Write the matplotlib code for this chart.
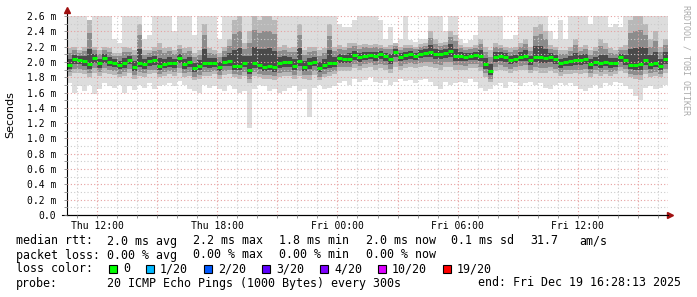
import numpy as np
import pandas as pd
import matplotlib
matplotlib.use("Agg")
import matplotlib.pyplot as plt
import matplotlib.dates as mdates
from matplotlib.ticker import MultipleLocator, FuncFormatter
from matplotlib.patches import Rectangle

# 15 minute samples, Thu 10:30 -> Fri 16:30 (values in ms)
times = pd.date_range("2025-12-18 10:30", periods=120, freq="15min")

median = [
    1.96, 2.04, 2.03, 2.01, 1.97, 2.05, 1.98, 2.05, 2.00, 1.99,
    1.96, 1.98, 2.03, 1.93, 1.99, 1.97, 2.01, 2.02, 1.95, 1.97,
    1.99, 1.98, 2.05, 1.97, 2.00, 1.92, 1.95, 1.99, 1.98, 1.99,
    1.94, 2.00, 2.01, 1.95, 1.95, 1.99, 1.90, 1.98, 1.96, 1.94,
    1.95, 1.93, 1.99, 2.00, 2.00, 1.95, 2.01, 1.94, 1.98, 2.00,
    1.92, 1.96, 1.98, 1.99, 2.05, 2.04, 2.04, 2.09, 2.06, 2.08,
    2.09, 2.08, 2.10, 2.08, 2.04, 2.13, 2.07, 2.09, 2.10, 2.08,
    2.11, 2.12, 2.13, 2.10, 2.11, 2.12, 2.14, 2.08, 2.08, 2.07,
    2.08, 2.09, 2.08, 1.97, 1.88, 2.06, 2.08, 2.07, 2.03, 2.04,
    2.07, 2.08, 2.02, 2.07, 2.06, 2.05, 2.06, 2.04, 1.98, 2.00,
    2.01, 2.02, 2.03, 2.04, 1.97, 2.00, 1.98, 2.00, 1.98, 1.99,
    2.06, 2.02, 1.96, 1.96, 1.97, 2.02, 1.97, 1.99, 1.95, 2.04,
]

ping_max = [
    2.65, 2.65, 2.60, 2.65, 2.45, 2.65, 2.65, 2.60, 2.65, 2.30,
    2.25, 2.65, 2.65, 2.60, 2.65, 2.30, 2.35, 2.65, 2.65, 2.60,
    2.65, 2.40, 2.65, 2.65, 2.65, 2.35, 2.65, 2.65, 2.60, 2.65,
    2.30, 2.65, 2.65, 2.65, 2.65, 2.65, 2.65, 2.65, 2.65, 2.65,
    2.65, 2.65, 2.65, 2.65, 2.65, 2.65, 2.65, 2.65, 2.65, 2.65,
    2.65, 2.65, 2.65, 2.65, 2.50, 2.45, 2.45, 2.55, 2.65, 2.65,
    2.65, 2.65, 2.55, 2.30, 2.45, 2.25, 2.30, 2.60, 2.28, 2.26,
    2.30, 2.30, 2.65, 2.65, 2.60, 2.40, 2.65, 2.65, 2.30, 2.25,
    2.28, 2.35, 2.65, 2.65, 2.65, 2.65, 2.60, 2.30, 2.30, 2.35,
    2.65, 2.65, 2.60, 2.65, 2.65, 2.60, 2.40, 2.30, 2.55, 2.30,
    2.65, 2.65, 2.65, 2.65, 2.50, 2.60, 2.65, 2.65, 2.45, 2.50,
    2.45, 2.60, 2.65, 2.65, 2.65, 2.65, 2.60, 2.65, 2.60, 2.65,
]

ping_min = [
    1.72, 1.60, 1.68, 1.62, 1.70, 1.58, 1.65, 1.72, 1.68, 1.66,
    1.70, 1.60, 1.68, 1.63, 1.70, 1.66, 1.72, 1.65, 1.68, 1.70,
    1.72, 1.68, 1.75, 1.70, 1.65, 1.62, 1.60, 1.70, 1.66, 1.68,
    1.64, 1.62, 1.70, 1.64, 1.60, 1.62, 1.14, 1.65, 1.70, 1.68,
    1.62, 1.64, 1.60, 1.62, 1.66, 1.68, 1.62, 1.64, 1.28, 1.66,
    1.70, 1.64, 1.66, 1.68, 1.72, 1.75, 1.70, 1.78, 1.74, 1.76,
    1.80, 1.74, 1.72, 1.76, 1.70, 1.74, 1.78, 1.75, 1.76, 1.72,
    1.76, 1.78, 1.74, 1.68, 1.64, 1.74, 1.70, 1.72, 1.74, 1.72,
    1.78, 1.74, 1.66, 1.62, 1.64, 1.70, 1.72, 1.66, 1.74, 1.72,
    1.68, 1.72, 1.74, 1.70, 1.72, 1.66, 1.64, 1.70, 1.72, 1.70,
    1.72, 1.68, 1.64, 1.62, 1.66, 1.70, 1.66, 1.72, 1.70, 1.74,
    1.72, 1.68, 1.64, 1.55, 1.50, 1.66, 1.68, 1.64, 1.66, 1.70,
]

q_high = [
    2.18, 2.20, 2.15, 2.20, 2.55, 2.20, 2.15, 2.20, 2.18, 2.12,
    2.12, 2.20, 2.18, 2.15, 2.50, 2.15, 2.16, 2.20, 2.25, 2.18,
    2.20, 2.15, 2.22, 2.18, 2.20, 2.12, 2.15, 2.50, 2.18, 2.16,
    2.12, 2.20, 2.30, 2.55, 2.60, 2.25, 2.40, 2.60, 2.55, 2.60,
    2.60, 2.55, 2.20, 2.22, 2.18, 2.20, 2.50, 2.15, 2.20, 2.20,
    2.15, 2.18, 2.50, 2.20, 2.22, 2.20, 2.25, 2.25, 2.22, 2.24,
    2.22, 2.24, 2.22, 2.20, 2.22, 2.25, 2.20, 2.22, 2.22, 2.20,
    2.24, 2.25, 2.40, 2.30, 2.25, 2.26, 2.40, 2.35, 2.22, 2.20,
    2.20, 2.22, 2.30, 2.20, 2.15, 2.25, 2.22, 2.20, 2.18, 2.20,
    2.25, 2.30, 2.20, 2.45, 2.50, 2.40, 2.22, 2.20, 2.15, 2.15,
    2.20, 2.30, 2.20, 2.22, 2.15, 2.20, 2.30, 2.25, 2.18, 2.15,
    2.20, 2.22, 2.55, 2.60, 2.60, 2.50, 2.30, 2.40, 2.20, 2.30,
]

q_low = [
    1.82, 1.85, 1.85, 1.84, 1.80, 1.86, 1.82, 1.86, 1.84, 1.83,
    1.80, 1.82, 1.86, 1.78, 1.82, 1.80, 1.84, 1.85, 1.80, 1.82,
    1.84, 1.82, 1.86, 1.80, 1.82, 1.76, 1.78, 1.82, 1.82, 1.84,
    1.78, 1.83, 1.84, 1.80, 1.78, 1.82, 1.72, 1.82, 1.80, 1.78,
    1.78, 1.76, 1.80, 1.82, 1.82, 1.78, 1.82, 1.78, 1.76, 1.83,
    1.76, 1.80, 1.82, 1.84, 1.88, 1.88, 1.88, 1.92, 1.90, 1.92,
    1.94, 1.90, 1.92, 1.90, 1.86, 1.94, 1.90, 1.92, 1.94, 1.92,
    1.94, 1.95, 1.94, 1.92, 1.90, 1.94, 1.94, 1.90, 1.90, 1.90,
    1.92, 1.92, 1.88, 1.80, 1.74, 1.88, 1.90, 1.88, 1.86, 1.88,
    1.90, 1.90, 1.85, 1.88, 1.86, 1.86, 1.88, 1.86, 1.82, 1.84,
    1.84, 1.85, 1.84, 1.86, 1.80, 1.84, 1.82, 1.84, 1.82, 1.84,
    1.88, 1.86, 1.80, 1.78, 1.76, 1.84, 1.80, 1.82, 1.80, 1.86,
]

loss_labels = ["0", "1/20", "2/20", "3/20", "4/20", "10/20", "19/20"]
loss_colors = ["#00ff00", "#00b8ff", "#0059ff", "#5e00ff", "#7e00ff", "#dd00ff", "#ff0000"]

W, H = 697, 297
mono = "DejaVu Sans Mono"

med = np.array(median)
mx = np.array(ping_max)
mn = np.array(ping_min)
qh = np.array(q_high)
ql = np.array(q_low)
width = 15 / (24 * 60)

fig = plt.figure(figsize=(W / 100, H / 100), dpi=100)
fig.patch.set_facecolor("white")
ax = fig.add_axes([67 / W, 1 - 215 / H, 601 / W, 199 / H])

# smoke: lighter outside, darker towards the median
ax.bar(times, mx - mn, bottom=mn, width=width, align="edge", color="#dddddd", linewidth=0)
ax.bar(times, qh - ql, bottom=ql, width=width, align="edge", color="#b8b8b8", linewidth=0)
for f, c in [(0.7, "#8c8c8c"), (0.35, "#4a4a4a")]:
    lo = med + f * (ql - med)
    hi = med + f * (qh - med)
    ax.bar(times, hi - lo, bottom=lo, width=width, align="edge", color=c, linewidth=0)
ax.hlines(med, mdates.date2num(times), mdates.date2num(times) + width,
          color="#00ff00", linewidth=2.2, zorder=3)

ax.set_xlim(times[0], times[0] + pd.Timedelta(hours=30))
ax.set_ylim(0, 2.6)

ax.xaxis.set_major_locator(mdates.HourLocator(byhour=range(0, 24, 3)))
ax.xaxis.set_minor_locator(mdates.HourLocator())
ax.xaxis.set_major_formatter(FuncFormatter(
    lambda v, p: mdates.num2date(v).strftime("%a %H:%M") if mdates.num2date(v).hour % 6 == 0 else ""))
ax.yaxis.set_major_locator(MultipleLocator(0.2))
ax.yaxis.set_minor_locator(MultipleLocator(0.1))
ax.yaxis.set_major_formatter(FuncFormatter(lambda v, p: "0.0" if abs(v) < 1e-9 else f"{v:.1f} m"))

ax.set_axisbelow(False)
ax.grid(which="major", color="#e6a0a0", linestyle=(0, (1, 2)), linewidth=0.8)
ax.grid(which="minor", color="#cccccc", linestyle=(0, (1, 2)), linewidth=0.8)

for s in ["top", "right"]:
    ax.spines[s].set_visible(False)
ax.spines["left"].set_linewidth(0.8)
ax.spines["bottom"].set_linewidth(0.8)
ax.tick_params(which="both", length=2, width=0.6, color="#888888")
ax.tick_params(axis="y", pad=6)
ax.tick_params(axis="x", pad=2)
for lab in ax.get_xticklabels() + ax.get_yticklabels():
    lab.set_fontfamily(mono)
    lab.set_fontsize(7)

# axis arrows like rrdtool
ax.plot([0, 0], [1, 1.03], transform=ax.transAxes, color="black", lw=0.8, clip_on=False)
ax.plot([-0.008, 1.004], [0, 0], transform=ax.transAxes, color="black", lw=0.8, clip_on=False)
ax.plot(0, 1.03, marker="^", ms=4, color="#a01010", transform=ax.transAxes, clip_on=False)
ax.plot(1.004, 0, marker=">", ms=4, color="#a01010", transform=ax.transAxes, clip_on=False)

fig.text(10 / W, 1 - 115 / H, "Seconds", rotation=90, ha="center", va="center", fontsize=8)
fig.text(686 / W, 1 - 5 / H, "RRDTOOL / TOBI OETIKER", rotation=270, ha="center", va="top",
         fontsize=6, family=mono, color="#aaaaaa")


def txt(x, y, s):
    fig.text(x / W, 1 - y / H, s, ha="left", va="center", fontsize=8.4, family=mono)


txt(16, 241, "median rtt:")
txt(107, 241, "2.0 ms avg")
txt(193, 241, "2.2 ms max")
txt(279, 241, "1.8 ms min")
txt(366, 241, "2.0 ms now")
txt(451, 241, "0.1 ms sd")
txt(530, 241, "31.7")
txt(579, 241, "am/s")

txt(16, 255, "packet loss:")
txt(107, 255, "0.00 % avg")
txt(193, 255, "0.00 % max")
txt(279, 255, "0.00 % min")
txt(366, 255, "0.00 % now")

txt(16, 269, "loss color:")
sq_x = [109, 146, 204, 262, 320, 378, 443]
for x, lab, c in zip(sq_x, loss_labels, loss_colors):
    fig.add_artist(Rectangle((x / W, 1 - 273 / H), 8 / W, 8 / H, transform=fig.transFigure,
                             facecolor=c, edgecolor="black", linewidth=0.8))
    txt(x + 14, 269, lab)

txt(16, 283, "probe:")
txt(107, 283, "20 ICMP Echo Pings (1000 Bytes) every 300s")
txt(478, 283, "end: Fri Dec 19 16:28:13 2025")

fig.savefig("out.png", dpi=100, facecolor="white")
